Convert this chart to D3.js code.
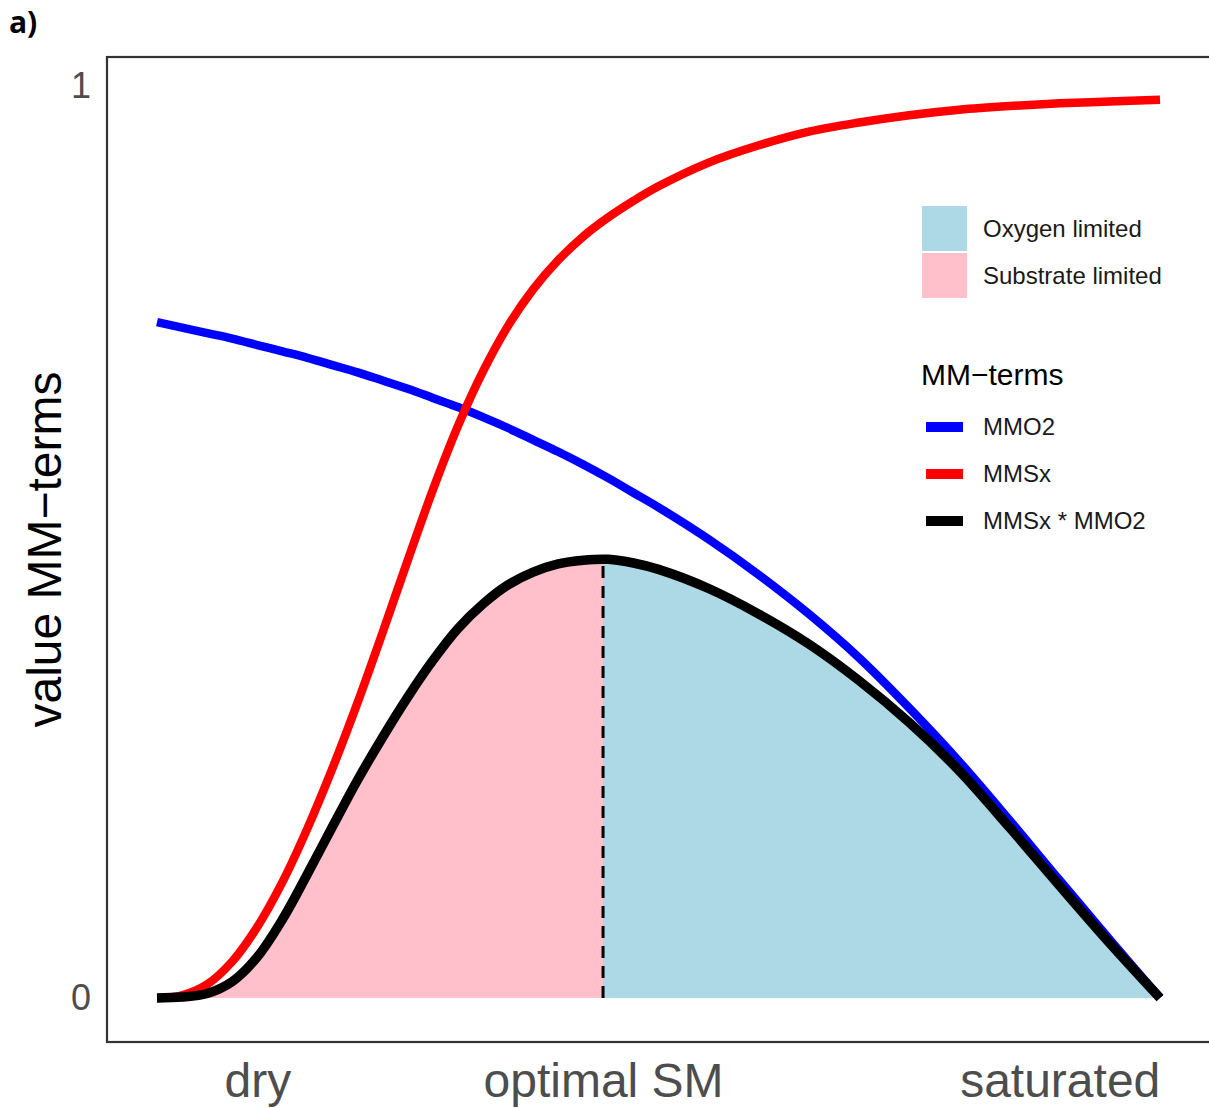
<!DOCTYPE html>
<html>
<head>
<meta charset="utf-8">
<script src="https://cdn.jsdelivr.net/npm/d3@7"></script>
<style>
  body { margin: 0; background: #fff; }
  svg { display: block; }
</style>
</head>
<body>
<script>
// Relative soil moisture, from dry (0) to saturated (1)
const soilMoisture = [0, 0.025, 0.05, 0.075, 0.1, 0.125, 0.15, 0.175, 0.2, 0.225, 0.25, 0.275, 0.3,
                      0.325, 0.35, 0.375, 0.4, 0.425, 0.45, 0.475, 0.5,
                      0.55, 0.6, 0.65, 0.7, 0.75, 0.8, 0.85, 0.9, 0.95, 1];
// Michaelis-Menten term for oxygen
const mmO2 = [0.741, 0.735, 0.729, 0.723, 0.716, 0.709, 0.702, 0.694, 0.686, 0.677, 0.668, 0.658, 0.648,
              0.637, 0.625, 0.612, 0.599, 0.585, 0.570, 0.554, 0.538,
              0.503, 0.464, 0.421, 0.373, 0.318, 0.259, 0.195, 0.129, 0.064, 0];
// Michaelis-Menten term for substrate
const mmSx = [0, 0.003, 0.015, 0.040, 0.078, 0.127, 0.186, 0.252, 0.324, 0.401, 0.480, 0.557, 0.627,
              0.687, 0.737, 0.777, 0.809, 0.835, 0.856, 0.874, 0.890,
              0.916, 0.935, 0.950, 0.960, 0.968, 0.974, 0.978, 0.981, 0.983, 0.985];
// Combined term MMSx * MMO2
const mmProduct = [0, 0.001, 0.005, 0.018, 0.045, 0.086, 0.136, 0.188, 0.239, 0.286, 0.330, 0.370, 0.405,
                   0.432, 0.453, 0.467, 0.476, 0.480, 0.481, 0.477, 0.470,
                   0.449, 0.421, 0.388, 0.348, 0.302, 0.249, 0.187, 0.123, 0.060, 0];

// Soil moisture where the combined term peaks
const optimalSM = 0.4447;
const optimalValue = 0.481;

const xTickValues = [0.1, optimalSM, 0.9];
const xTickLabels = ["dry", "optimal SM", "saturated"];
const yTickValues = [0, 1];
const yTickLabels = ["0", "1"];

const fillNames = ["Oxygen limited", "Substrate limited"];
const fillColors = ["#ADD8E6", "#FFC0CB"];
const lineNames = ["MMO2", "MMSx", "MMSx * MMO2"];
const lineColors = ["#0000FF", "#FF0000", "#000000"];

const W = 1209, H = 1108;
const panel = { left: 107, top: 57, right: 1212, bottom: 1042 };
const sans = "'Liberation Sans', Arial, sans-serif";

const svg = d3.select("body").append("svg").attr("width", W).attr("height", H)
  .style("font-family", sans);

const x = d3.scaleLinear().domain([0, 1]).range([157, 1160]);
const y = d3.scaleLinear().domain([0, 1]).range([998, 86]);

const rows = soilMoisture.map((sm, i) => ({ sm, o2: mmO2[i], sx: mmSx[i], prod: mmProduct[i] }));
const curve = d3.curveCatmullRom.alpha(0.5);

// Clip regions either side of the optimum
const defs = svg.append("defs");
defs.append("clipPath").attr("id", "clip-substrate").append("rect")
  .attr("x", 0).attr("y", 0).attr("width", x(optimalSM)).attr("height", H);
defs.append("clipPath").attr("id", "clip-oxygen").append("rect")
  .attr("x", x(optimalSM)).attr("y", 0).attr("width", W - x(optimalSM)).attr("height", H);

const area = d3.area().curve(curve)
  .x(d => x(d.sm)).y0(y(0)).y1(d => y(d.prod));

svg.append("path").datum(rows).attr("d", area)
  .attr("fill", fillColors[1]).attr("clip-path", "url(#clip-substrate)");
svg.append("path").datum(rows).attr("d", area)
  .attr("fill", fillColors[0]).attr("clip-path", "url(#clip-oxygen)");

// Optimum marker
svg.append("line")
  .attr("x1", x(optimalSM)).attr("x2", x(optimalSM))
  .attr("y1", y(0)).attr("y2", y(optimalValue))
  .attr("stroke", "#000").attr("stroke-width", 3).attr("stroke-dasharray", "12,8");

const line = key => d3.line().curve(curve).x(d => x(d.sm)).y(d => y(d[key]));

svg.append("path").datum(rows).attr("d", line("o2"))
  .attr("fill", "none").attr("stroke", lineColors[0]).attr("stroke-width", 8.5);
svg.append("path").datum(rows).attr("d", line("sx"))
  .attr("fill", "none").attr("stroke", lineColors[1]).attr("stroke-width", 8.5);
svg.append("path").datum(rows).attr("d", line("prod"))
  .attr("fill", "none").attr("stroke", lineColors[2]).attr("stroke-width", 9.5);

// Panel border
svg.append("rect")
  .attr("x", panel.left).attr("y", panel.top)
  .attr("width", panel.right - panel.left).attr("height", panel.bottom - panel.top)
  .attr("fill", "none").attr("stroke", "#333").attr("stroke-width", 2.2);

// Axes
const yAxis = svg.append("g").attr("transform", `translate(${panel.left},0)`)
  .call(d3.axisLeft(y).tickValues(yTickValues).tickSize(0).tickPadding(16)
    .tickFormat((d, i) => yTickLabels[i]));
yAxis.select(".domain").remove();
yAxis.selectAll("text").attr("fill", "#4D4D4D")
  .style("font-size", "36px").style("font-family", sans);

const xAxis = svg.append("g").attr("transform", `translate(0,${panel.bottom})`)
  .call(d3.axisBottom(x).tickValues(xTickValues).tickSize(0).tickPadding(21)
    .tickFormat((d, i) => xTickLabels[i]));
xAxis.select(".domain").remove();
xAxis.selectAll("text").attr("fill", "#4D4D4D")
  .style("font-size", "48px").style("font-family", sans);

svg.append("text")
  .attr("transform", `translate(61,${(panel.top + panel.bottom) / 2}) rotate(-90)`)
  .attr("text-anchor", "middle").style("font-size", "48px").attr("fill", "#000")
  .text("value MM\u2212terms");

// Panel tag
svg.append("text").attr("x", 9).attr("y", 33)
  .style("font-family", "'Open Sans', 'DejaVu Sans', sans-serif").style("font-weight", 700)
  .style("font-size", "30px").attr("fill", "#000").text("a)");

// Fill legend
const fillItems = svg.append("g").selectAll("g").data(fillNames).join("g")
  .attr("transform", (d, i) => `translate(922,${206 + i * 47})`);
fillItems.append("rect").attr("width", 45).attr("height", 45)
  .attr("fill", (d, i) => fillColors[i]);
fillItems.append("text").attr("x", 61).attr("y", 22.5).attr("dy", "0.35em")
  .style("font-size", "24px").attr("fill", "#1a1a1a").text(d => d);

// Line legend
svg.append("text").attr("x", 921).attr("y", 385)
  .style("font-size", "30px").attr("fill", "#000").text("MM\u2212terms");
const lineItems = svg.append("g").selectAll("g").data(lineNames).join("g")
  .attr("transform", (d, i) => `translate(0,${427 + i * 47})`);
lineItems.append("line").attr("x1", 926).attr("x2", 963).attr("y1", 0).attr("y2", 0)
  .attr("stroke", (d, i) => lineColors[i]).attr("stroke-width", 10);
lineItems.append("text").attr("x", 983).attr("y", 0).attr("dy", "0.35em")
  .style("font-size", "24px").attr("fill", "#1a1a1a").text(d => d);
</script>
</body>
</html>
